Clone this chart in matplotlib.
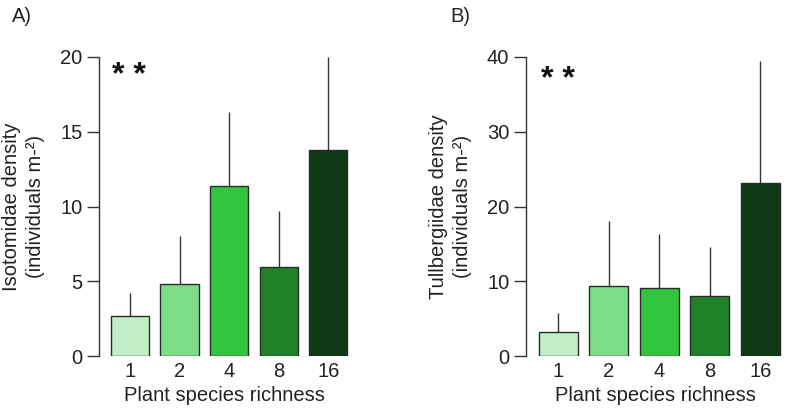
import matplotlib
matplotlib.use("Agg")
import matplotlib.pyplot as plt
import numpy as np

plt.rcParams['font.family'] = ['Liberation Sans', 'DejaVu Sans']

categories = ["1", "2", "4", "8", "16"]
iso_means = [2.65, 4.82, 11.35, 5.95, 13.78]
iso_upper = [4.23, 8.0, 16.3, 9.72, 20.0]
tul_means = [3.25, 9.36, 9.14, 8.07, 23.14]
tul_upper = [5.8, 18.06, 16.3, 14.58, 39.46]
colors = ["#c2eec8", "#7ddc88", "#33c43f", "#1f8228", "#0f3a16"]

fig = plt.figure(figsize=(7.86, 4.09), dpi=100)
FS = 14.5

def panel(rect, means, upper, ymax, yticks, ylabel, letter, letter_xy, star_xy, xlim):
    ax = fig.add_axes(rect)
    x = np.arange(len(categories))
    means = np.array(means)
    upper = np.array(upper)
    ax.bar(x, means, width=0.77, color=colors, edgecolor="#2b2b2b", linewidth=1.0, zorder=2)
    ax.vlines(x, means, upper, color="#333333", linewidth=1.0, zorder=1, clip_on=False)
    ax.set_xlim(*xlim)
    ax.set_ylim(0, ymax)
    ax.set_yticks(yticks)
    ax.set_xticks(x)
    ax.set_xticklabels(categories)
    for s in ["top", "right", "bottom"]:
        ax.spines[s].set_visible(False)
    ax.spines["left"].set_color("#333333")
    ax.spines["left"].set_linewidth(1.0)
    ax.tick_params(axis="y", length=9, width=1.0, color="#333333", labelsize=FS, pad=3, labelcolor="#222222")
    ax.tick_params(axis="x", length=0, labelsize=FS, pad=4, labelcolor="#222222")
    ax.set_ylabel(ylabel, fontsize=FS, color="#222222", labelpad=11, linespacing=1.3)
    ax.set_xlabel("Plant species richness", fontsize=FS, color="#222222", labelpad=4)
    fig.text(letter_xy[0], letter_xy[1], letter, fontsize=FS, color="#222222", va="center", ha="left")
    fig.text(star_xy[0], star_xy[1], "* *", fontsize=23, fontweight="bold", color="#111111", va="center", ha="left")
    return ax

panel([99/786, 53/409, 250/786, 299/409], iso_means, iso_upper, 20, [0, 5, 10, 15, 20],
      "Isotomidae density\n(individuals m-²)", "A)", (12/786, 1 - 16/409), (112/786, 1 - 76/409), (-0.626, 4.42))
panel([526/786, 53/409, 258/786, 299/409], tul_means, tul_upper, 40, [0, 10, 20, 30, 40],
      "Tullbergiidae density\n(individuals m-²)", "B)", (450/786, 1 - 16/409), (541/786, 1 - 80/409), (-0.634, 4.47))

fig.savefig("out.png", dpi=100)
